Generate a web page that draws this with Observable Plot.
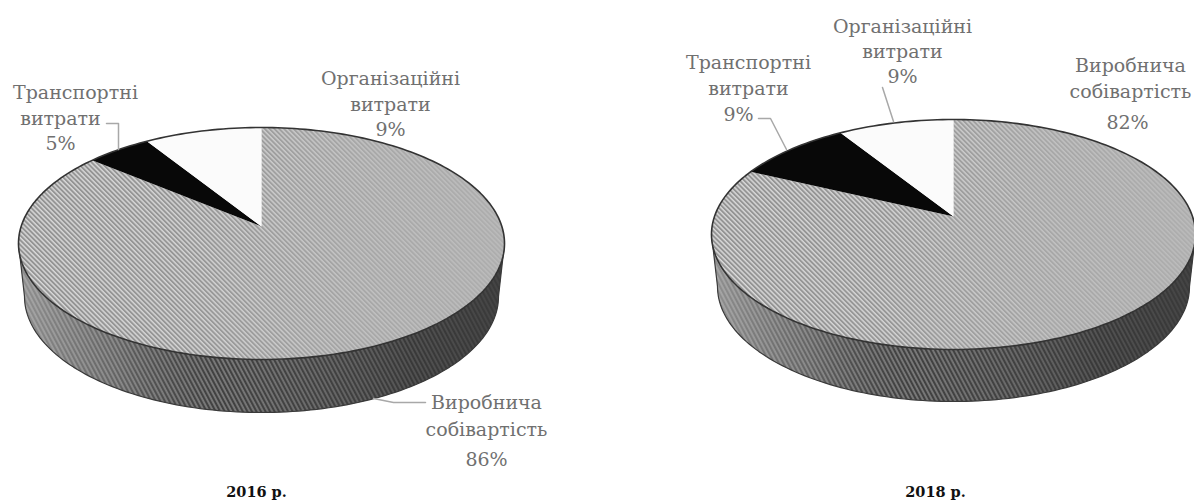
<!DOCTYPE html>
<html><head><meta charset="utf-8">
<script src="https://cdn.jsdelivr.net/npm/d3@7"></script>
<script src="https://cdn.jsdelivr.net/npm/@observablehq/plot@0.6"></script>
<style>html,body{margin:0;padding:0;background:#fff}svg{display:block}</style>
</head><body><div id="chart"></div>
<script>
const categories = ["Виробнича собівартість", "Транспортні витрати", "Організаційні витрати"];
const years = ["2016 р.", "2018 р."];
const shares2016 = [86, 5, 9];
const shares2018 = [82, 9, 9];
const sliceFills = ["url(#hatchTop)", "#080808", "#fbfbfb"];

const labelText = ["Організаційні","витрати","9%","Транспортні","витрати","5%","Виробнича","собівартість","86%",
                   "Організаційні","витрати","9%","Транспортні","витрати","9%","Виробнича","собівартість","82%"];
const labelX = [390,390,390,75,60,60,486,486,486, 902,902,902,748,748,738,1130,1130,1127];
const labelY = [78,104,129,92,118,143,402,429,459, 26,51,76,62,88,114,65,91,122];
const yearX = [256,935];
const yearY = [492,492];
const leaders = [
  [[106,123],[118,123],[118,149]],
  [[373,398],[393,402],[425,402]],
  [[882,87],[893,121]],
  [[758,118],[770,118],[786,149]]
];

// Pie views: apex, back, front, half-width, depth of the perspective drawing
const views = [
  {shares: shares2016, cx: 261, apex: 226, top: 127, bottom: 359, rx: 243, depth: 53, rxB: 237},
  {shares: shares2018, cx: 953, apex: 216, top: 119, bottom: 349, rx: 242, depth: 52, rxB: 236}
];

function projector(v) {
  const p = v.apex - v.top, q = v.bottom - v.apex;
  const k = (q - p) / (q + p), a = p * (1 + k), b = v.rx * Math.sqrt(1 - k * k);
  return t => {
    const u = Math.sin(t), w = Math.cos(t), d = 1 + k * w;
    return [v.cx + b * u / d, v.apex - a * w / d];
  };
}
const TAU = Math.PI * 2;
const slices = [], rims = [], sides = [], sideEdges = [];
views.forEach((v, i) => {
  const P = projector(v);
  const total = d3.sum(v.shares);
  let acc = 0;
  v.shares.forEach((s, j) => {
    const a0 = acc / total * TAU, a1 = (acc + s) / total * TAU;
    acc += s;
    const id = i + "-" + j;
    slices.push({id, fill: sliceFills[j], x: v.cx, y: v.apex});
    const n = Math.max(8, Math.round(s * 4));
    for (let m = 0; m <= n; m++) {
      const [x, y] = P(a0 + (a1 - a0) * m / n);
      slices.push({id, fill: sliceFills[j], x, y});
    }
  });
  rims.push(...d3.range(0, 241).map(m => { const [x, y] = P(m / 240 * TAU); return {id: i, x, y}; }));
  const yc = (v.top + v.bottom) / 2, ry = (v.bottom - v.top) / 2;
  const front = d3.range(0, 121).map(m => Math.PI * m / 120);
  const upper = front.map(t => ({id: i, x: v.cx + v.rx * Math.cos(t), y: yc + ry * Math.sin(t)}));
  const lower = front.map(t => ({id: i, x: v.cx + v.rxB * Math.cos(t), y: yc + v.depth + ry * Math.sin(t)}));
  sides.push(...upper.concat(lower.slice().reverse()));
  sideEdges.push(upper[0], ...lower, upper[120]);
});

const defs = () => d3.create("svg:defs").html(`
  <pattern id="hatchTop" patternUnits="userSpaceOnUse" width="3.4" height="3.4" patternTransform="rotate(-45)">
    <rect width="3.4" height="3.4" fill="#d8d8d8"/><rect width="1.9" height="3.4" fill="#939393"/>
  </pattern>
  <pattern id="hatchSide" patternUnits="userSpaceOnUse" width="4" height="4" patternTransform="rotate(-28)">
    <rect width="4" height="4" fill="#7c7c7c"/><rect width="2.1" height="4" fill="#404040"/>
  </pattern>
  <linearGradient id="sideShade" x1="0" x2="1" y1="0" y2="0">
    <stop offset="0" stop-color="#c4c4c4" stop-opacity=".62"/>
    <stop offset=".2" stop-color="#a8a8a8" stop-opacity=".35"/>
    <stop offset=".42" stop-color="#555" stop-opacity=".03"/>
    <stop offset=".8" stop-color="#333" stop-opacity=".55"/>
    <stop offset="1" stop-color="#3a3a3a" stop-opacity=".85"/>
  </linearGradient>
  <linearGradient id="topShade" x1="0" x2="1" y1="0" y2="0">
    <stop offset="0" stop-color="#b4b4b4" stop-opacity="0"/>
    <stop offset=".35" stop-color="#b4b4b4" stop-opacity=".1"/>
    <stop offset=".7" stop-color="#b4b4b4" stop-opacity=".62"/>
    <stop offset="1" stop-color="#b4b4b4" stop-opacity=".82"/>
  </linearGradient>`).node();

const leaderRows = leaders.flatMap((pts, id) => pts.map(([x, y]) => ({id, x, y})));
const labelIdx = d3.range(labelText.length);
const font = "'DejaVu Serif', serif";

const chart = Plot.plot({
  width: 1194, height: 504, margin: 0,
  x: {domain: [0, 1194], range: [0, 1194], axis: null},
  y: {domain: [0, 504], range: [0, 504], axis: null},
  marks: [
    defs,
    Plot.line(sides, {x: "x", y: "y", z: "id", fill: "url(#hatchSide)", stroke: "none"}),
    Plot.line(sides, {x: "x", y: "y", z: "id", fill: "url(#sideShade)", stroke: "none"}),
    Plot.line(sideEdges, {x: "x", y: "y", z: "id", stroke: "#3a3a3a", strokeWidth: 1.2}),
    Plot.line(slices, {x: "x", y: "y", z: "id", fill: d => d.fill, stroke: "none"}),
    Plot.line(slices.filter(d => d.id.endsWith("-0")), {x: "x", y: "y", z: "id", fill: "url(#topShade)", stroke: "none"}),
    Plot.line(rims, {x: "x", y: "y", z: "id", stroke: "#333", strokeWidth: 1.6}),
    Plot.line(leaderRows, {x: "x", y: "y", z: "id", stroke: "#a8a8a8", strokeWidth: 1.5}),
    Plot.text(labelIdx, {x: i => labelX[i], y: i => labelY[i], text: i => labelText[i],
      fontFamily: font, fontSize: 19, fill: "#707070", textAnchor: "middle", lineAnchor: "middle"}),
    Plot.text(years, {x: (d, i) => yearX[i], y: (d, i) => yearY[i], text: d => d,
      fontFamily: font, fontSize: 14.5, fontWeight: "bold", fill: "#111", textAnchor: "middle", lineAnchor: "middle"})
  ]
});
document.getElementById("chart").append(chart);
</script></body></html>
